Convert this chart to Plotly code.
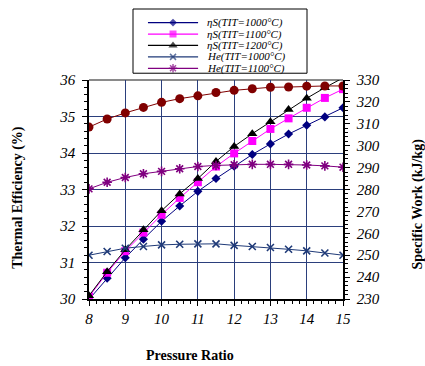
import plotly.graph_objects as go

# ---------------- data ----------------
pressure_ratio = [8, 8.5, 9, 9.5, 10, 10.5, 11, 11.5, 12, 12.5, 13, 13.5, 14, 14.5, 15]

# thermal efficiency (%) - left axis
eta_s_1000 = [29.99, 30.57, 31.13, 31.64, 32.13, 32.55, 32.95, 33.30, 33.64, 33.96, 34.25, 34.52, 34.76, 34.99, 35.24]
eta_s_1100 = [30.06, 30.72, 31.31, 31.82, 32.31, 32.77, 33.20, 33.63, 33.99, 34.33, 34.66, 34.95, 35.24, 35.51, 35.75]
eta_s_1200 = [30.09, 30.75, 31.35, 31.90, 32.42, 32.88, 33.30, 33.77, 34.18, 34.53, 34.86, 35.19, 35.50, 35.79, 36.06]

# specific work (kJ/kg) - right axis
he_1000 = [250.0, 251.7, 253.2, 254.0, 254.7, 255.0, 255.2, 255.2, 254.5, 254.0, 253.5, 252.7, 252.0, 251.0, 250.0]
he_1100 = [280.3, 283.3, 285.5, 287.2, 288.3, 289.5, 290.5, 291.0, 291.3, 291.5, 291.5, 291.5, 291.2, 290.8, 290.2]
he_1200 = [308.5, 312.2, 315.0, 317.5, 319.8, 321.5, 322.8, 324.3, 325.3, 326.0, 326.7, 326.8, 327.2, 327.3, 327.3]

series_names = ["ηS(TIT=1000°C)", "ηS(TIT=1100°C)", "ηS(TIT=1200°C)",
                "He(TIT=1000°C)", "He(TIT=1100°C)"]

left_ticks = [30, 31, 32, 33, 34, 35, 36]
right_ticks = [230, 240, 250, 260, 270, 280, 290, 300, 310, 320, 330]
x_ticks = [8, 9, 10, 11, 12, 13, 14, 15]

# ---------------- styles ----------------
FONT = "Liberation Serif"
styles = [
    dict(color="#000080", symbol="diamond", size=7, lw=1),
    dict(color="#FF00FF", symbol="square", size=8, lw=1),
    dict(color="#000000", symbol="triangle-up", size=9, lw=1),
    dict(color="#1F3A78", symbol="x-thin-open", size=7, lw=1),
    dict(color="#800080", symbol="asterisk-open", size=8, lw=1),
]
he1200_style = dict(color="#800000", symbol="circle", size=9, lw=1)

fig = go.Figure()

def add_series(y, st, yaxis):
    open_sym = st["symbol"].endswith("open")
    fig.add_trace(go.Scatter(
        x=pressure_ratio, y=y, mode="lines+markers", yaxis=yaxis,
        line=dict(color=st["color"], width=st["lw"]),
        marker=dict(symbol=st["symbol"], size=st["size"], color=st["color"],
                    line=dict(color=st["color"], width=1.6 if open_sym else 0)),
        showlegend=False, cliponaxis=True))

add_series(he_1200, he1200_style, "y2")
add_series(he_1100, styles[4], "y2")
add_series(he_1000, styles[3], "y2")
add_series(eta_s_1000, styles[0], "y")
add_series(eta_s_1100, styles[1], "y")
add_series(eta_s_1200, styles[2], "y")

# ---------------- custom compact legend (helper axes) ----------------
for i, (name, st) in enumerate(zip(series_names, styles)):
    open_sym = st["symbol"].endswith("open")
    fig.add_trace(go.Scatter(
        x=[0.086, 0.23, 0.374], y=[i, i, i], xaxis="x3", yaxis="y3",
        mode="lines+markers",
        line=dict(color=st["color"], width=1.2),
        marker=dict(symbol=st["symbol"], size=[0, st["size"] - 1, 0], color=st["color"],
                    line=dict(color=st["color"], width=1.5 if open_sym else 0)),
        showlegend=False, hoverinfo="skip"))
    fig.add_annotation(x=0.414, y=i, xref="x3", yref="y3", text=name,
                       showarrow=False, xanchor="left", yanchor="middle",
                       font=dict(family=FONT, size=11, color="black", style="italic"))

fig.add_shape(type="rect", xref="x3 domain", yref="y3 domain", x0=0, x1=1, y0=0, y1=1,
              line=dict(color="black", width=1), fillcolor="rgba(0,0,0,0)", layer="above")

# top border of the plot area
fig.add_shape(type="line", xref="x domain", yref="y domain", x0=0, x1=1, y0=1, y1=1,
              line=dict(color="#8a8a8a", width=2), layer="below")

tickfont = dict(family=FONT, size=15, color="black", style="italic")
grid = "#2B3F7C"
main_top = 225 / 298

fig.update_layout(
    width=425, height=366,
    margin=dict(l=89, r=82, t=1, b=67),
    paper_bgcolor="white", plot_bgcolor="white",
    showlegend=False,
    xaxis=dict(range=[8, 15], tickvals=x_ticks, tickfont=tickfont,
               showgrid=True, gridcolor=grid, gridwidth=1,
               showline=True, linecolor="black", linewidth=1.5,
               ticks="outside", ticklen=5, tickcolor="black",
               minor=dict(dtick=0.2, ticks="outside", ticklen=3, tickcolor="black", showgrid=False),
               zeroline=False, anchor="y", domain=[0, 1]),
    yaxis=dict(range=[30, 36], tickvals=left_ticks, tickfont=tickfont,
               showgrid=True, gridcolor=grid, gridwidth=1,
               showline=True, linecolor="black", linewidth=1.5,
               ticks="outside", ticklen=5, tickcolor="black",
               minor=dict(dtick=0.2, ticks="outside", ticklen=3, tickcolor="black", showgrid=False),
               zeroline=False, domain=[0, main_top], ticklabelstandoff=4),
    yaxis2=dict(range=[230, 330], tickvals=right_ticks, tickfont=tickfont,
                overlaying="y", side="right", anchor="x", showgrid=False,
                showline=True, linecolor="black", linewidth=1.5,
                ticks="outside", ticklen=5, tickcolor="black",
                minor=dict(dtick=2, ticks="outside", ticklen=3, tickcolor="black", showgrid=False),
                zeroline=False, ticklabelstandoff=4),
    xaxis3=dict(domain=[(133 - 89) / 254, (307 - 89) / 254], range=[0, 1],
                visible=False, fixedrange=True, anchor="y3"),
    yaxis3=dict(domain=[(299 - 67) / 298, 1.0], range=[4.43, -1.19],
                visible=False, fixedrange=True, anchor="x3"),
)

title_font = dict(family=FONT, size=14, color="black", weight="bold")
fig.add_annotation(text="Thermal Efficiency (%)", xref="paper", yref="paper",
                   x=(18 - 89) / 254, y=(299 - 195) / 298, textangle=-90,
                   showarrow=False, font=title_font, xanchor="center", yanchor="middle")
fig.add_annotation(text="Specific Work (kJ/kg)", xref="paper", yref="paper",
                   x=(418 - 89) / 254, y=(299 - 202) / 298, textangle=-90,
                   showarrow=False, font=title_font, xanchor="center", yanchor="middle")
fig.add_annotation(text="Pressure Ratio", xref="paper", yref="paper",
                   x=(190 - 89) / 254, y=(299 - 357) / 298,
                   showarrow=False, font=title_font, xanchor="center", yanchor="middle")

fig.write_html("out.html")
